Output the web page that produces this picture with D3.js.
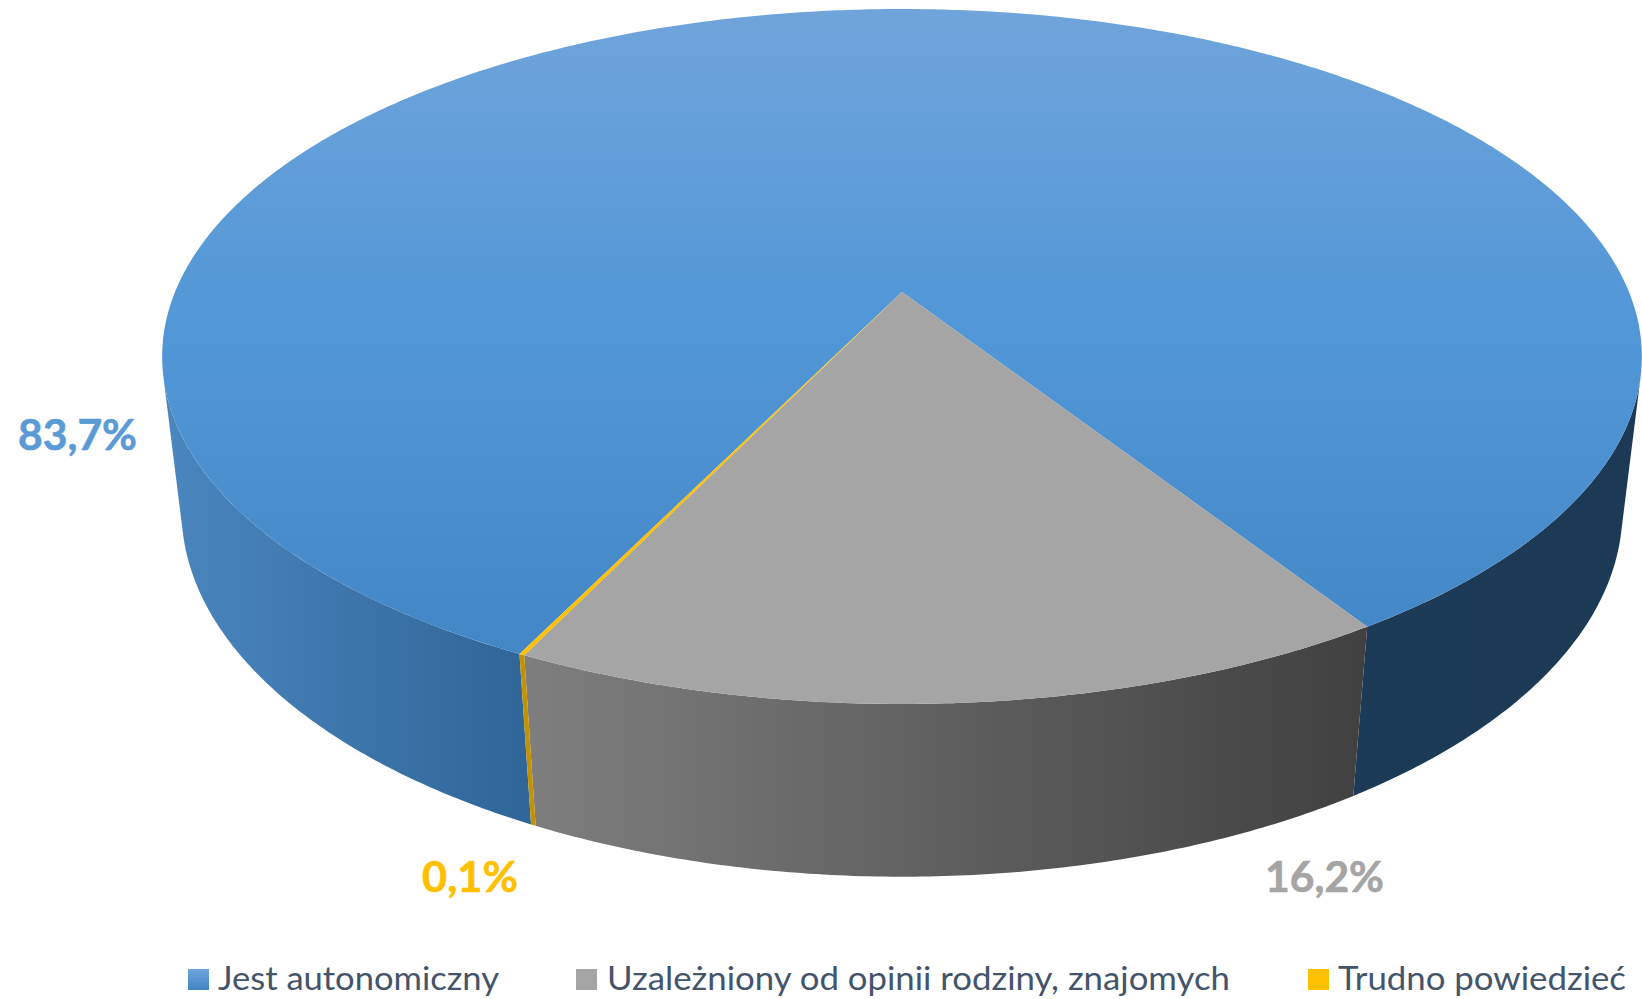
<!DOCTYPE html>
<html>
<head>
<meta charset="utf-8">
<script src="https://cdnjs.cloudflare.com/ajax/libs/d3/7.8.5/d3.min.js"></script>
<style>
  html, body { margin: 0; padding: 0; background: #fff; }
  svg { display: block; font-family: Lato, "Open Sans", sans-serif; }
</style>
</head>
<body>
<div id="chart"></div>
<script>
const categories = ["Jest autonomiczny", "Uzależniony od opinii rodziny, znajomych", "Trudno powiedzieć"];
const values = [83.7, 16.2, 0.1];
const valueLabels = ["83,7%", "16,2%", "0,1%"];

const width = 1642;
const height = 999;

// camera fitted to the reference: p = tilt perspective, q = depth perspective
const cx = 902, cy = 292;
const radiusX = 727, radiusY = 335.5, drop = 155.9;
const p = 0.1856, q = 0.026;
const firstSlice = (206 * Math.PI) / 180;
const TAU = 2 * Math.PI;

const svg = d3.select("#chart").append("svg").attr("width", width).attr("height", height);
const defs = svg.append("defs");

function gradient(id, vertical, stops, from, to) {
  const g = defs.append("linearGradient").attr("id", id).attr("gradientUnits", "userSpaceOnUse")
    .attr("x1", vertical ? 0 : from).attr("x2", vertical ? 0 : to)
    .attr("y1", vertical ? from : 0).attr("y2", vertical ? to : 0);
  stops.forEach((s) => g.append("stop").attr("offset", s[0]).attr("stop-color", s[1]));
}

gradient("blueTop", true, [[0, "#70a4db"], [0.45, "#5297d7"], [1, "#4184c4"]], 9, 704);
gradient("blueWall", false, [[0, "#4a86bf"], [0.25, "#2f6597"], [0.7, "#1c3b58"], [1, "#1c3a55"]], 165, 1642);
gradient("greyWall", false, [[0, "#7e7e7e"], [1, "#414141"]], 530, 1354);
gradient("blueSwatch", true, [[0, "#70a4db"], [1, "#4184c4"]], 969, 990);

const topFill = ["url(#blueTop)", "#a5a5a5", "#ffc000"];
const wallFill = ["url(#blueWall)", "url(#greyWall)", "#c29200"];
const swatchFill = ["url(#blueSwatch)", "#a5a5a5", "#ffc000"];
const labelFill = ["#5b9bd5", "#a5a5a5", "#ffc000"];

// angle clockwise from the back of the pie; z = 0 top face, z = 1 bottom face
function project(angle, r, z) {
  const u = r * Math.sin(angle);
  const v = -r * Math.cos(angle);
  const w = 1 - p * v + q * z;
  return [cx + (radiusX * u) / w, cy + (radiusY * v + drop * z) / w];
}

const pie = d3.pie().sort(null).startAngle(firstSlice).endAngle(firstSlice + TAU);
const slices = pie(values);
const line = d3.line();

const step = Math.PI / 360;
function arcAngles(a0, a1) {
  const n = Math.max(1, Math.ceil((a1 - a0) / step));
  return d3.range(n + 1).map((i) => a0 + ((a1 - a0) * i) / n);
}

// wall outline ends where the rim turns away, seen from the vanishing point of the verticals
const vanishY = cy + drop / q;
const sweep = d3.range(0, TAU, step);
const lean = (a) => {
  const pt = project(a, 1, 0);
  return (pt[0] - cx) / (vanishY - pt[1]);
};
const edgeRight = d3.greatest(sweep, (a) => lean(a));
const edgeLeft = d3.least(sweep, (a) => lean(a));

const bands = [
  { slice: 0, a0: firstSlice, a1: edgeLeft + TAU > firstSlice + 1 ? edgeLeft : edgeLeft + TAU },
  { slice: 0, a0: edgeRight + TAU, a1: slices[0].endAngle },
  { slice: 1, a0: slices[1].startAngle, a1: slices[1].endAngle },
  { slice: 2, a0: slices[2].startAngle, a1: slices[2].endAngle },
];

svg.append("g").attr("class", "walls")
  .selectAll("path")
  .data(bands)
  .join("path")
  .attr("fill", (d) => wallFill[d.slice])
  .attr("d", (d) => {
    const a = arcAngles(d.a0, d.a1);
    return line([...a.map((t) => project(t, 1, 0)), ...a.slice().reverse().map((t) => project(t, 1, 1))]) + "Z";
  });

// top face
svg.append("g").attr("class", "top")
  .selectAll("path")
  .data(slices)
  .join("path")
  .attr("fill", (_, i) => topFill[i])
  .attr("d", (d) => line([project(0, 0, 0), ...arcAngles(d.startAngle, d.endAngle).map((a) => project(a, 1, 0))]) + "Z");

// data labels
const labelX = [77.5, 1324.5, 470];
const labelY = [450, 892, 892];
const labelW = [119, 119, 96];
svg.append("g").attr("class", "labels")
  .attr("font-size", 42).attr("font-weight", 700).attr("text-anchor", "middle")
  .attr("stroke-width", 0.6)
  .selectAll("text")
  .data(valueLabels)
  .join("text")
  .attr("x", (_, i) => labelX[i])
  .attr("y", (_, i) => labelY[i])
  .attr("fill", (_, i) => labelFill[i])
  .attr("stroke", (_, i) => labelFill[i])
  .attr("textLength", (_, i) => labelW[i])
  .attr("lengthAdjust", "spacingAndGlyphs")
  .text((d) => d);

// legend
const swatchX = [188, 576, 1308];
const textX = [218, 607, 1338];
const textW = [281, 623, 288];
const legend = svg.append("g").attr("class", "legend")
  .selectAll("g")
  .data(categories)
  .join("g");
legend.append("rect")
  .attr("x", (_, i) => swatchX[i]).attr("y", 969)
  .attr("width", 21).attr("height", 21)
  .attr("fill", (_, i) => swatchFill[i]);
legend.append("text")
  .attr("x", (_, i) => textX[i]).attr("y", 990)
  .attr("font-size", 33).attr("fill", "#44546a")
  .attr("textLength", (_, i) => textW[i])
  .attr("lengthAdjust", "spacingAndGlyphs")
  .text((d) => d);
</script>
</body>
</html>
